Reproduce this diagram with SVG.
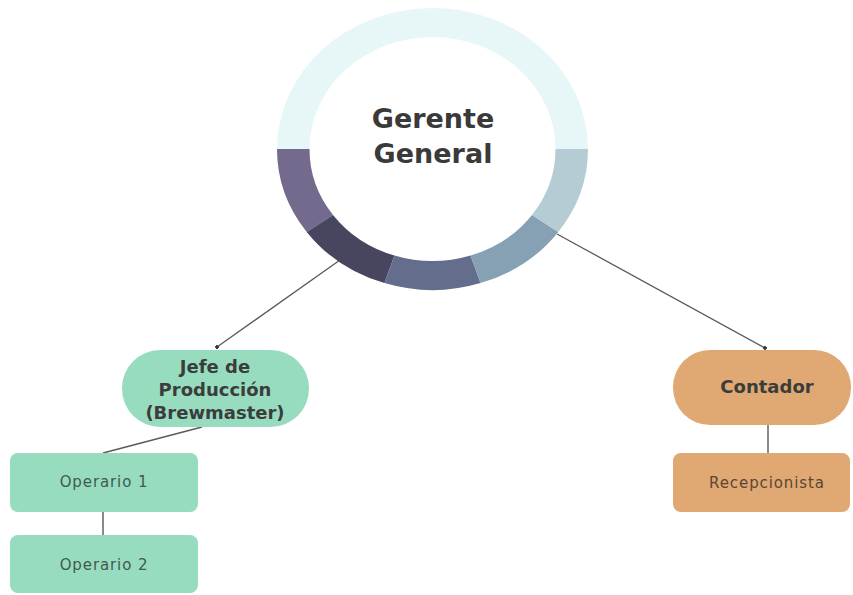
<svg xmlns="http://www.w3.org/2000/svg" width="853" height="595" viewBox="0 0 853 595">
<style>
.title{font-family:"DejaVu Sans",sans-serif;font-weight:bold;fill:#3a3a3a;text-anchor:middle}
.bold{font-family:"DejaVu Sans",sans-serif;font-weight:bold;font-size:18px;fill:#3b3d3c;text-anchor:middle}
.reg{font-family:"DejaVu Sans",sans-serif;font-size:15px;letter-spacing:0.9px;text-anchor:middle}
.green{fill:#98dcc0}
.orange{fill:#e0a872}
.conn{stroke:#5a5a5a;stroke-width:1.3;fill:none}
.vconn{stroke:#8a8a8a;stroke-width:2;fill:none}
</style>
<defs>
<marker id="dot" viewBox="0 0 6 6" refX="3" refY="3" markerWidth="4" markerHeight="4" orient="auto" markerUnits="userSpaceOnUse">
<circle cx="3" cy="3" r="3" fill="#3a3a3a"/>
</marker>
</defs>
<rect width="853" height="595" fill="#ffffff"/>
<g id="connectors">
<line class="conn" x1="340" y1="260" x2="217" y2="347" marker-end="url(#dot)"/>
<line class="conn" x1="557" y1="234" x2="765" y2="348" marker-end="url(#dot)"/>
<line class="conn" x1="202" y1="427" x2="103" y2="453"/>
<line class="vconn" x1="103" y1="512" x2="103" y2="535"/>
<line class="vconn" x1="768" y1="425" x2="768" y2="453"/>
</g>
<g id="gerente-general">
<path d="M277 149 A155.5 141 0 0 1 588 149 L555.5 149 A123 112 0 0 0 309.5 149 Z" fill="#e7f7f8"/>
<path d="M277 149 A155.5 141 0 0 0 306.7 231.9 L333 214.9 A123 112 0 0 1 309.5 149 Z" fill="#736a8e"/>
<path d="M306.7 231.9 A155.5 141 0 0 0 384.45 283.1 L394.5 255.5 A123 112 0 0 1 333 214.9 Z" fill="#48465f"/>
<path d="M384.45 283.1 A155.5 141 0 0 0 480.55 283.1 L470.5 255.5 A123 112 0 0 1 394.5 255.5 Z" fill="#646e8c"/>
<path d="M480.55 283.1 A155.5 141 0 0 0 558.3 231.9 L532 214.9 A123 112 0 0 1 470.5 255.5 Z" fill="#87a1b4"/>
<path d="M558.3 231.9 A155.5 141 0 0 0 588 149 L555.5 149 A123 112 0 0 1 532 214.9 Z" fill="#b5ccd5"/>
<text class="title" x="433" y="128" font-size="27">Gerente</text>
<text class="title" x="433" y="163" font-size="27">General</text>
</g>
<g id="jefe-produccion">
<rect class="green" x="122" y="350" width="187" height="77" rx="38"/>
<text class="bold" x="215" y="373">Jefe de</text>
<text class="bold" x="215" y="396">Producción</text>
<text class="bold" x="215" y="419">(Brewmaster)</text>
</g>
<g id="operario-1">
<rect class="green" x="10" y="453" width="188" height="59" rx="8"/>
<text class="reg" x="104" y="487" fill="#3f5a50">Operario 1</text>
</g>
<g id="operario-2">
<rect class="green" x="10" y="535" width="188" height="58" rx="8"/>
<text class="reg" x="104" y="570" fill="#3f5a50">Operario 2</text>
</g>
<g id="contador">
<rect class="orange" x="673" y="350" width="178" height="75" rx="37"/>
<text class="bold" x="767" y="393">Contador</text>
</g>
<g id="recepcionista">
<rect class="orange" x="673" y="453" width="177" height="59" rx="8"/>
<text class="reg" x="767" y="488" fill="#5a4636">Recepcionista</text>
</g>
</svg>
